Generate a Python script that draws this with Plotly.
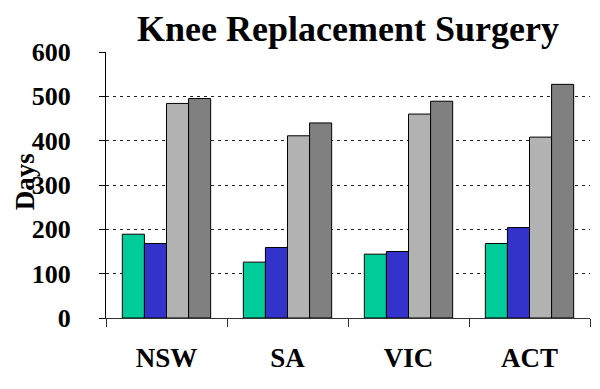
import plotly.graph_objects as go

categories = ["NSW", "SA", "VIC", "ACT"]
series1 = [189, 126, 144, 168]
series2 = [168, 159, 150, 204]
series3 = [484, 411, 460, 408]
series4 = [495, 440, 489, 527]
colors = ["#00CC99", "#3333CC", "#B2B2B2", "#808080"]
y_ticks = [0, 100, 200, 300, 400, 500, 600]

font_family = "Liberation Serif"

fig = go.Figure()
for vals, col in zip([series1, series2, series3, series4], colors):
    fig.add_trace(go.Bar(
        x=categories, y=vals, marker=dict(color=col, line=dict(color="#000000", width=1)),
        showlegend=False))

fig.update_layout(
    width=600, height=389,
    margin=dict(l=98, r=18, t=44, b=79, autoexpand=False),
    paper_bgcolor="white", plot_bgcolor="white",
    barmode="group", bargap=0.27, bargroupgap=0,
    title=dict(text="Knee Replacement Surgery", x=0.5, xref="paper", y=0.948, yref="container",
               xanchor="center", yanchor="middle",
               font=dict(family=font_family, size=36, color="black", weight="bold")),
    xaxis=dict(
        automargin=False,
        showline=True, linecolor="#333333", linewidth=1,
        ticks="outside", tickson="boundaries", ticklen=8, tickcolor="#333333",
        ticklabelstandoff=16,
        tickfont=dict(family=font_family, size=27, color="black", weight="bold"),
        showgrid=False),
    yaxis=dict(
        automargin=False,
        range=[0, 600], tickvals=y_ticks,
        showline=True, linecolor="#000000", linewidth=1,
        ticks="outside", ticklen=6, tickcolor="#000000",
        ticklabelstandoff=23,
        tickfont=dict(family=font_family, size=26, color="black", weight="bold"),
        showgrid=True, gridcolor="#222222", gridwidth=1, griddash="3px,4px",
        zeroline=False),
    annotations=[dict(
        text="Days", textangle=-90, showarrow=False,
        xref="paper", yref="paper", x=0, y=0.51, xshift=-81,
        xanchor="center", yanchor="middle", borderpad=0,
        font=dict(family=font_family, size=27, color="black", weight="bold"))],
)

fig.write_html("out.html")
